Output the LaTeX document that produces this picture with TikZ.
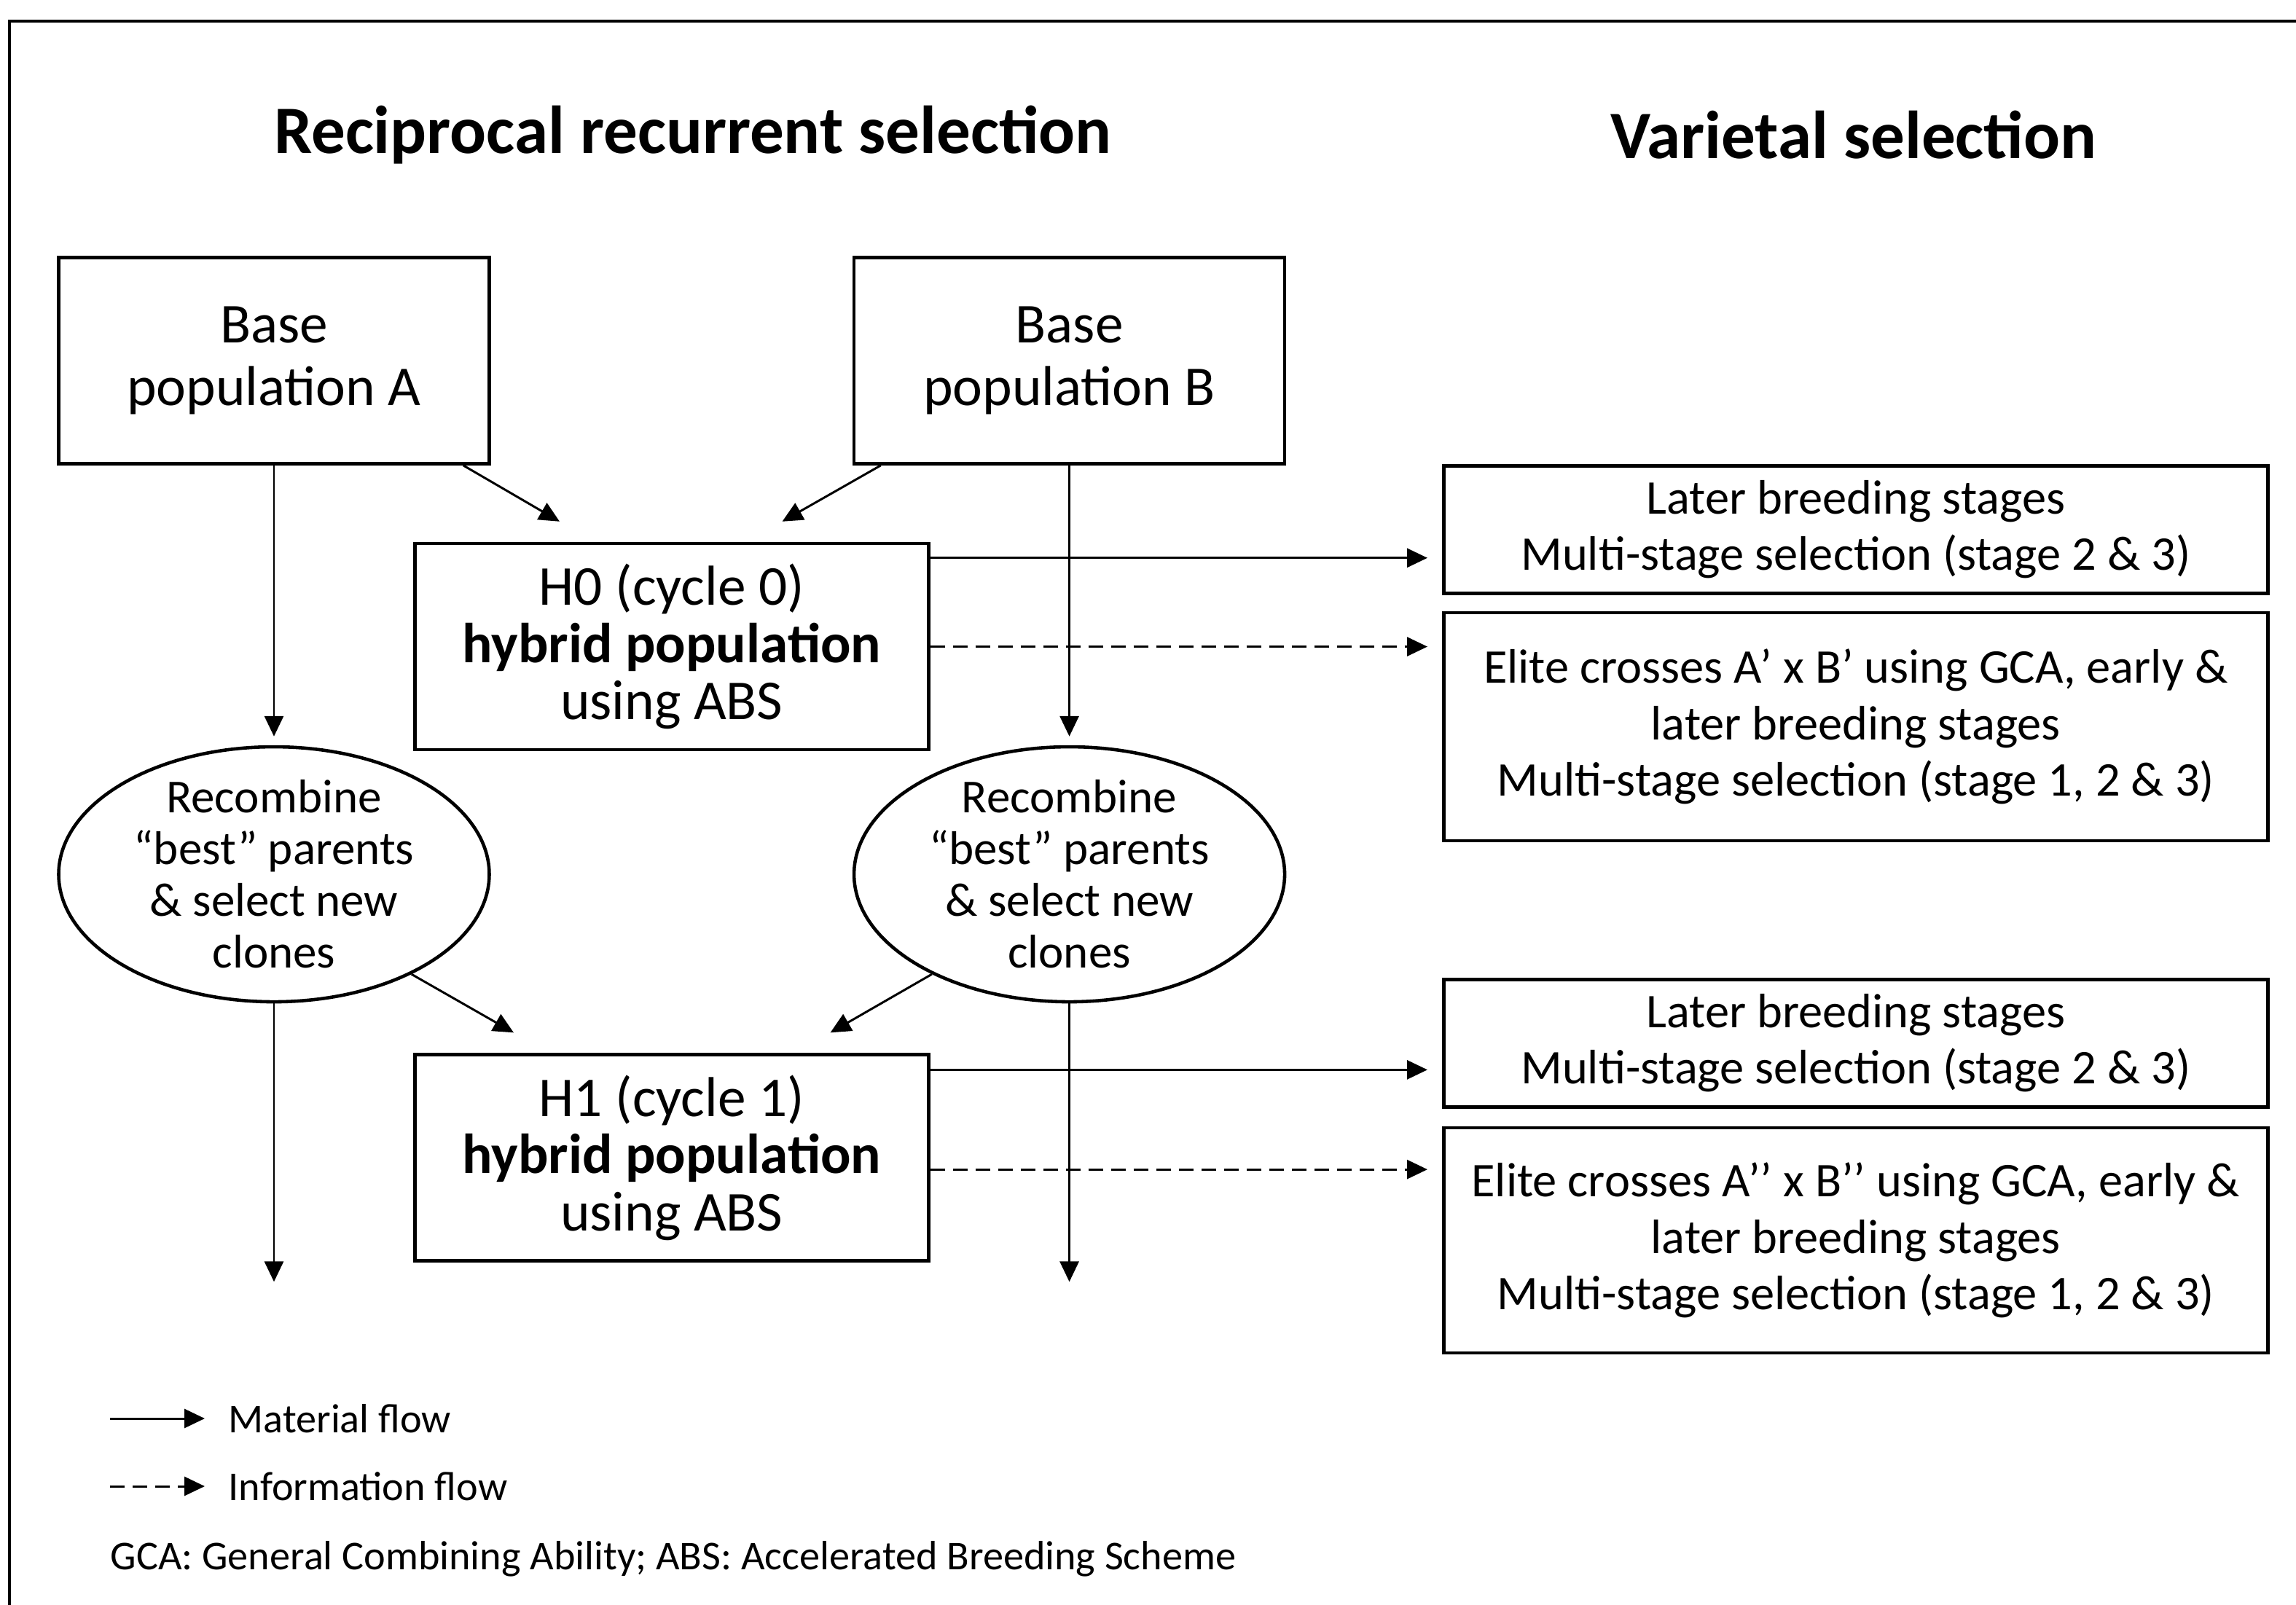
\documentclass[tikz,border=0pt]{standalone}
\usepackage{fontspec}
\setmainfont{Carlito}
\usetikzlibrary{arrows.meta, shapes.geometric, positioning, calc}

\begin{document}
\begin{tikzpicture}[
    box/.style={draw, line width=1.3pt, minimum width=5.91cm, minimum height=2.83cm,
        inner sep=0pt, align=center, font=\fontsize{22}{24.5}\selectfont},
    hybrid/.style={box, minimum width=7.05cm, font=\fontsize{22}{22.4}\selectfont},
    blob/.style={ellipse, draw, line width=1.3pt, minimum width=5.91cm, minimum height=3.50cm,
        inner xsep=0pt, inner ysep=-0.3cm, align=center, font=\fontsize{18.5}{20.2}\selectfont},
    stage/.style={draw, line width=1.3pt, minimum width=11.31cm, inner sep=0pt,
        align=center, font=\fontsize{18.9}{22}\selectfont},
    heading/.style={font=\fontsize{26.5}{30}\selectfont\bfseries},
    legend/.style={inner sep=0pt, font=\fontsize{16}{19}\selectfont},
    arr/.style={-{Triangle[length=0.28cm, width=0.26cm]}, line width=0.85pt},
    info/.style={arr, dash pattern=on 0.2cm off 0.11cm}
  ]
  \useasboundingbox (0,0) rectangle (31.51,-22.03);
  % outer frame (runs off the right and bottom edge)
  \draw[line width=1pt] (31.8,-0.29) -- (0.13,-0.29) -- (0.13,-22.3);

  \node[heading] (rrs) at (9.51,-1.85) {Reciprocal recurrent selection};
  \node[heading] (vsel) at (25.44,-1.85) {Varietal selection};

  % reciprocal recurrent selection
  \node[box] (baseA) at (3.76,-4.95) {Base\\population A};
  \node[box, right=4.96cm of baseA] (baseB) {Base\\population B};
  \coordinate (mid) at ($(baseA.south)!0.5!(baseB.south)$);
  \node[hybrid, below=1.05cm of mid] (H0) {H0 (cycle 0)\\\textbf{hybrid population}\\using ABS};
  \node[hybrid, below=4.14cm of H0] (H1) {H1 (cycle 1)\\\textbf{hybrid population}\\using ABS};
  \node[blob, below=3.84cm of baseA] (recA) {Recombine\\“best” parents\\\& select new\\clones};
  \node[blob, below=3.84cm of baseB] (recB) {Recombine\\“best” parents\\\& select new\\clones};
  \coordinate[below=3.82cm of recA.south] (outA);
  \coordinate[below=3.82cm of recB.south] (outB);

  % varietal selection
  \node[stage, minimum height=1.75cm, anchor=north west] (later0) at (19.79,-6.37)
    {Later breeding stages\\Multi-stage selection (stage 2 \& 3)};
  \node[stage, minimum height=3.13cm, below=0.22cm of later0] (elite0)
    {Elite crosses A’ x B’ using GCA, early \&\\later breeding stages\\Multi-stage selection (stage 1, 2 \& 3)};
  \node[stage, minimum height=1.75cm, anchor=north west] (later1) at (19.79,-13.42)
    {Later breeding stages\\Multi-stage selection (stage 2 \& 3)};
  \node[stage, minimum height=3.09cm, below=0.24cm of later1] (elite1)
    {Elite crosses A’’ x B’’ using GCA, early \&\\later breeding stages\\Multi-stage selection (stage 1, 2 \& 3)};

  % material flow
  \draw[arr, shorten >=0.12cm] (baseA.south) -- (recA.north);
  \draw[arr, shorten >=0.12cm] (baseB.south) -- (recB.north);
  \draw[arr] ([xshift=-0.38cm]baseA.south east) -- ([xshift=2.01cm, yshift=0.28cm]H0.north west);
  \draw[arr] ([xshift=0.39cm]baseB.south west) -- ([xshift=-2.03cm, yshift=0.28cm]H0.north east);
  \draw[arr] (recA.-36) -- ([xshift=1.38cm, yshift=0.28cm]H1.north west);
  \draw[arr] (recB.-144) -- ([xshift=-1.37cm, yshift=0.28cm]H1.north east);
  \draw[arr] (recA.south) -- (outA);
  \draw[arr] (recB.south) -- (outB);

  \coordinate (h0mat) at ([yshift=-0.22cm]H0.north east);
  \coordinate (h1mat) at ([yshift=-0.23cm]H1.north east);
  \coordinate (h1inf) at ([yshift=-0.16cm]H1.east);
  \draw[arr, shorten >=0.2cm] (h0mat) -- (h0mat -| later0.west);
  \draw[arr, shorten >=0.2cm] (h1mat) -- (h1mat -| later1.west);

  % information flow
  \draw[info, shorten >=0.2cm] (H0.east) -- (H0.east -| elite0.west);
  \draw[info, shorten >=0.2cm] (h1inf) -- (h1inf -| elite1.west);

  % legend
  \node[legend, anchor=west] (matlbl) at (3.13,-19.47) {Material flow};
  \node[legend, anchor=west] (inflbl) at (3.13,-20.40) {Information flow};
  \node[legend, anchor=west] (abbr) at (1.51,-21.40)
    {GCA: General Combining Ability; ABS: Accelerated Breeding Scheme};
  \coordinate[left=1.62cm of matlbl.west] (matstart);
  \coordinate[left=1.62cm of inflbl.west] (infstart);
  \draw[arr, shorten >=0.32cm] (matstart) -- (matlbl.west);
  \draw[info, shorten >=0.32cm] (infstart) -- (inflbl.west);
\end{tikzpicture}
\end{document}
